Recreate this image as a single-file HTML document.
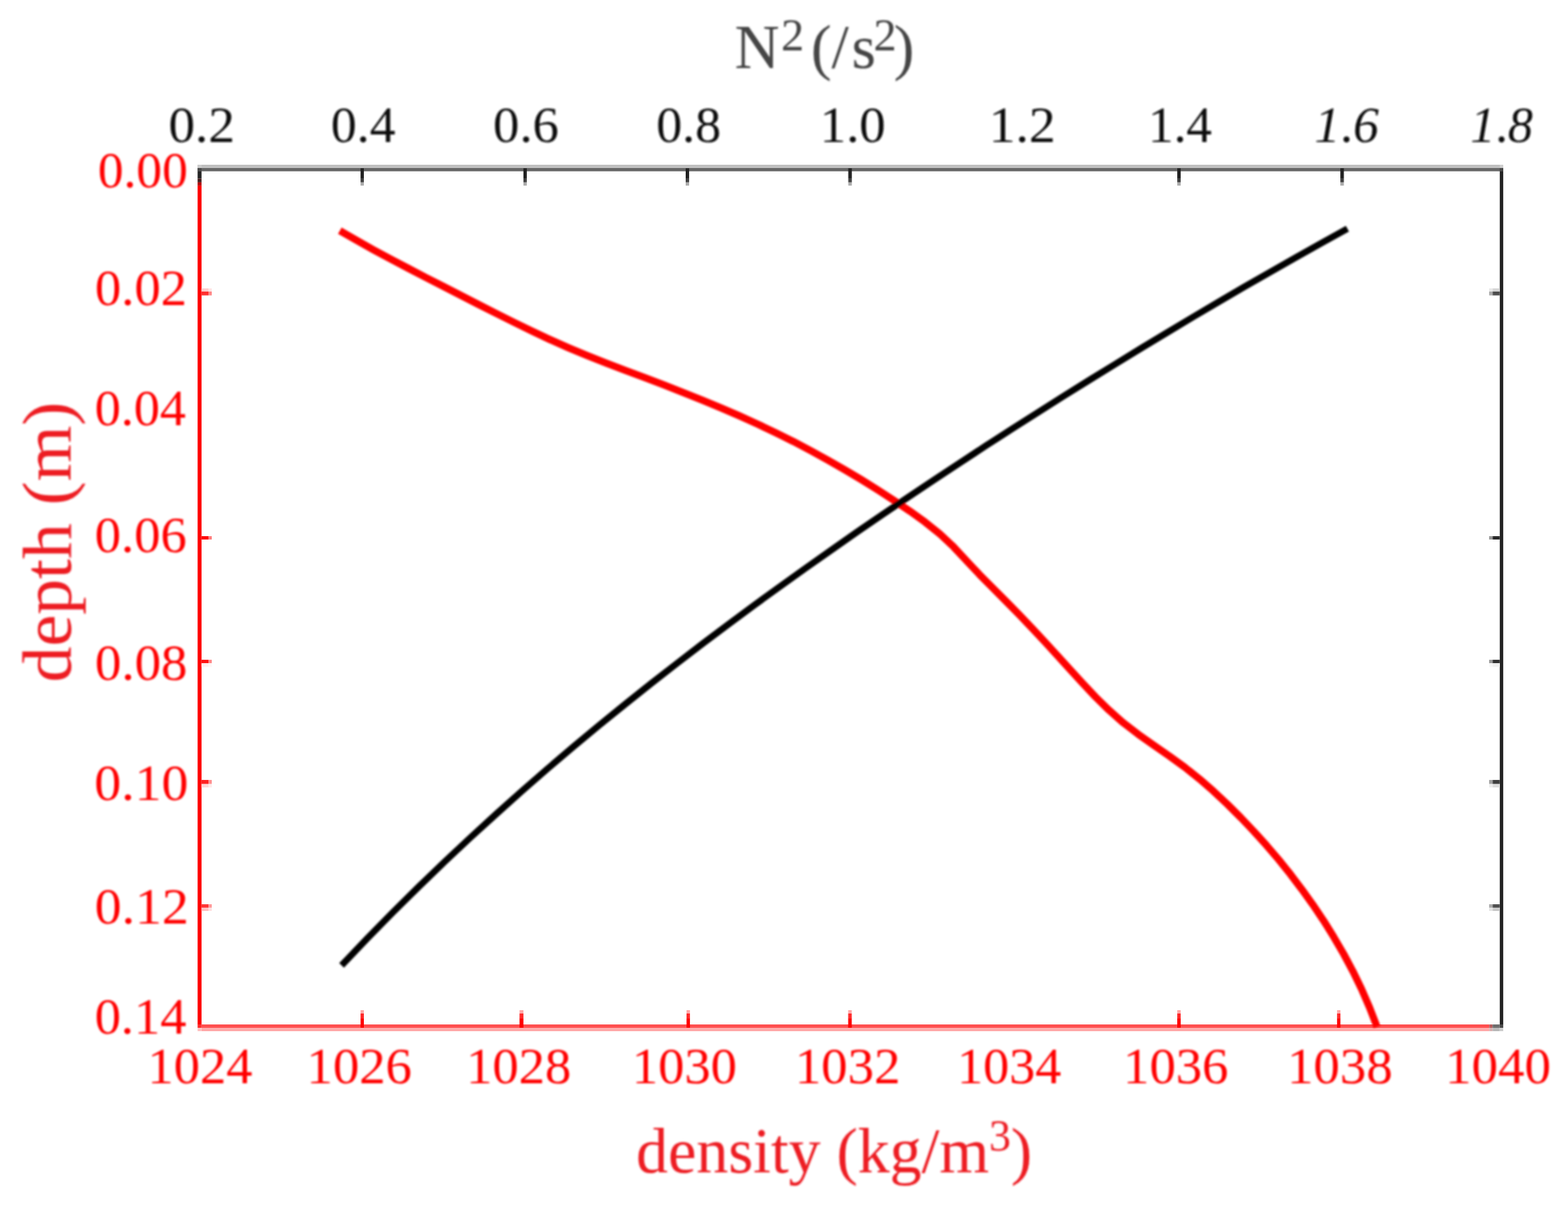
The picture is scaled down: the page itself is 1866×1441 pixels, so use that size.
<!DOCTYPE html>
<html lang="en"><head><meta charset="utf-8"><title>Density and N2 versus depth</title>
<style>
html,body{margin:0;padding:0;background:#fff;}
body{width:1866px;height:1441px;overflow:hidden;}
svg{display:block;}
text{font-family:"Liberation Serif",serif;}
.tk{font-size:62px;text-anchor:middle;}
</style></head><body>
<svg width="1866" height="1441" viewBox="0 0 1866 1441" role="img" aria-label="Density and squared buoyancy frequency versus depth">
<defs><filter id="b" x="-5%" y="-5%" width="110%" height="110%"><feGaussianBlur stdDeviation="1.0"/></filter></defs>
<rect width="1866" height="1441" fill="#fff"/>
<g id="axes">
<rect x="235.20" y="196.00" width="1553.70" height="3.90" fill="#c0c0c0"/>
<rect x="235.20" y="199.90" width="1553.70" height="3.90" fill="#666"/>
<rect x="235.20" y="196.00" width="4.60" height="3.90" fill="#cdcdcd"/>
<rect x="235.20" y="199.90" width="4.60" height="3.90" fill="#4a4a4a"/>
<rect x="1784.80" y="196.00" width="4.10" height="3.90" fill="#d0d0d0"/>
<rect x="1784.80" y="199.90" width="4.10" height="3.90" fill="#484848"/>
<rect x="1784.80" y="203.80" width="4.10" height="1015.20" fill="#222"/>
<rect x="239.80" y="1219.00" width="1532.40" height="4.00" fill="#ff5050"/>
<rect x="239.80" y="1223.00" width="1532.40" height="4.05" fill="#ffa8a8"/>
<rect x="1772.20" y="1219.00" width="4.00" height="4.00" fill="#b85c5c"/>
<rect x="1772.20" y="1223.00" width="4.00" height="4.05" fill="#d8b0b0"/>
<rect x="1776.20" y="1219.00" width="8.60" height="4.00" fill="#6e6e6e"/>
<rect x="1776.20" y="1223.00" width="8.60" height="4.05" fill="#b8b8b8"/>
<rect x="1784.80" y="1219.00" width="4.10" height="4.00" fill="#484848"/>
<rect x="1784.80" y="1223.00" width="4.10" height="4.05" fill="#cccccc"/>
<rect x="235.20" y="203.80" width="4.60" height="8.50" fill="#222"/>
<rect x="235.20" y="212.30" width="4.60" height="4.60" fill="#3f1c1c"/>
<rect x="235.20" y="216.90" width="4.60" height="4.00" fill="#b00a0a"/>
<rect x="235.20" y="220.90" width="4.60" height="998.10" fill="#ff0000"/>
<rect x="235.20" y="1219.00" width="4.60" height="4.00" fill="#ff2a2a"/>
<rect x="235.20" y="1223.00" width="4.60" height="4.05" fill="#ffc0c0"/>
</g>
<g id="ticks">
<rect x="429.10" y="200.20" width="3.90" height="11.80" fill="#222"/>
<rect x="429.10" y="212.00" width="3.90" height="4.90" fill="#404040"/>
<rect x="429.10" y="216.90" width="3.90" height="3.90" fill="#aaaaaa"/>
<rect x="622.90" y="200.20" width="4.00" height="11.80" fill="#222"/>
<rect x="622.90" y="212.00" width="4.00" height="4.90" fill="#404040"/>
<rect x="622.90" y="216.90" width="4.00" height="3.90" fill="#aaaaaa"/>
<rect x="816.00" y="200.20" width="4.10" height="11.80" fill="#222"/>
<rect x="816.00" y="212.00" width="4.10" height="4.90" fill="#404040"/>
<rect x="816.00" y="216.90" width="4.10" height="3.90" fill="#aaaaaa"/>
<rect x="1009.50" y="200.20" width="4.20" height="11.80" fill="#222"/>
<rect x="1009.50" y="212.00" width="4.20" height="4.90" fill="#404040"/>
<rect x="1009.50" y="216.90" width="4.20" height="3.90" fill="#aaaaaa"/>
<rect x="1401.00" y="200.20" width="4.10" height="11.80" fill="#222"/>
<rect x="1401.00" y="212.00" width="4.10" height="4.90" fill="#404040"/>
<rect x="1401.00" y="216.90" width="4.10" height="3.90" fill="#aaaaaa"/>
<rect x="1595.10" y="200.20" width="4.20" height="11.80" fill="#222"/>
<rect x="1595.10" y="212.00" width="4.20" height="4.90" fill="#404040"/>
<rect x="1595.10" y="216.90" width="4.20" height="3.90" fill="#aaaaaa"/>
<rect x="429.10" y="1202.00" width="3.90" height="4.00" fill="#ffa8a8"/>
<rect x="429.10" y="1206.00" width="3.90" height="5.20" fill="#ff2a2a"/>
<rect x="429.10" y="1211.20" width="3.90" height="11.80" fill="#ff0000"/>
<rect x="618.30" y="1202.00" width="4.60" height="4.00" fill="#ffa8a8"/>
<rect x="618.30" y="1206.00" width="4.60" height="5.20" fill="#ff2a2a"/>
<rect x="618.30" y="1211.20" width="4.60" height="11.80" fill="#ff0000"/>
<rect x="817.00" y="1202.00" width="4.10" height="4.00" fill="#ffa8a8"/>
<rect x="817.00" y="1206.00" width="4.10" height="5.20" fill="#ff2a2a"/>
<rect x="817.00" y="1211.20" width="4.10" height="11.80" fill="#ff0000"/>
<rect x="1009.40" y="1202.00" width="4.20" height="4.00" fill="#ffa8a8"/>
<rect x="1009.40" y="1206.00" width="4.20" height="5.20" fill="#ff2a2a"/>
<rect x="1009.40" y="1211.20" width="4.20" height="11.80" fill="#ff0000"/>
<rect x="1401.00" y="1202.00" width="4.10" height="4.00" fill="#ffa8a8"/>
<rect x="1401.00" y="1206.00" width="4.10" height="5.20" fill="#ff2a2a"/>
<rect x="1401.00" y="1211.20" width="4.10" height="11.80" fill="#ff0000"/>
<rect x="1591.20" y="1202.00" width="4.00" height="4.00" fill="#ffa8a8"/>
<rect x="1591.20" y="1206.00" width="4.00" height="5.20" fill="#ff2a2a"/>
<rect x="1591.20" y="1211.20" width="4.00" height="11.80" fill="#ff0000"/>
<rect x="239.80" y="343.20" width="8.20" height="3.70" fill="#ffcccc"/>
<rect x="248.00" y="343.20" width="4.00" height="3.70" fill="#ffe4e4"/>
<rect x="1776.20" y="343.20" width="8.60" height="3.70" fill="#d4d4d4"/>
<rect x="1772.15" y="343.20" width="4.05" height="3.70" fill="#e8e8e8"/>
<rect x="239.80" y="346.90" width="8.20" height="4.60" fill="#ff3030"/>
<rect x="248.00" y="346.90" width="4.00" height="4.60" fill="#ff8888"/>
<rect x="1776.20" y="346.90" width="8.60" height="4.60" fill="#4d4d4d"/>
<rect x="1772.15" y="346.90" width="4.05" height="4.60" fill="#aaaaaa"/>
<rect x="239.80" y="638.00" width="8.20" height="4.00" fill="#ff0808"/>
<rect x="248.00" y="638.00" width="4.00" height="4.00" fill="#ff8080"/>
<rect x="1776.20" y="638.00" width="8.60" height="4.00" fill="#2a2a2a"/>
<rect x="1772.15" y="638.00" width="4.05" height="4.00" fill="#999999"/>
<rect x="239.80" y="785.10" width="8.20" height="4.20" fill="#ff1010"/>
<rect x="248.00" y="785.10" width="4.00" height="4.20" fill="#ff8888"/>
<rect x="1776.20" y="785.10" width="8.60" height="4.20" fill="#303030"/>
<rect x="1772.15" y="785.10" width="4.05" height="4.20" fill="#9a9a9a"/>
<rect x="239.80" y="789.30" width="8.20" height="4.20" fill="#ffeeee"/>
<rect x="248.00" y="789.30" width="4.00" height="4.20" fill="#fff6f6"/>
<rect x="1776.20" y="789.30" width="8.60" height="4.20" fill="#f0f0f0"/>
<rect x="1772.15" y="789.30" width="4.05" height="4.20" fill="#f8f8f8"/>
<rect x="239.80" y="928.10" width="8.20" height="4.75" fill="#ff2020"/>
<rect x="248.00" y="928.10" width="4.00" height="4.75" fill="#ff9090"/>
<rect x="1776.20" y="928.10" width="8.60" height="4.75" fill="#3c3c3c"/>
<rect x="1772.15" y="928.10" width="4.05" height="4.75" fill="#a0a0a0"/>
<rect x="239.80" y="932.85" width="8.20" height="4.15" fill="#ffd8d8"/>
<rect x="248.00" y="932.85" width="4.00" height="4.15" fill="#ffecec"/>
<rect x="1776.20" y="932.85" width="8.60" height="4.15" fill="#dcdcdc"/>
<rect x="1772.15" y="932.85" width="4.05" height="4.15" fill="#eeeeee"/>
<rect x="239.80" y="1076.00" width="8.20" height="4.00" fill="#ff3838"/>
<rect x="248.00" y="1076.00" width="4.00" height="4.00" fill="#ff9c9c"/>
<rect x="1776.20" y="1076.00" width="8.60" height="4.00" fill="#505050"/>
<rect x="1772.15" y="1076.00" width="4.05" height="4.00" fill="#aaaaaa"/>
<rect x="239.80" y="1080.00" width="8.20" height="4.00" fill="#ffc0c0"/>
<rect x="248.00" y="1080.00" width="4.00" height="4.00" fill="#ffe0e0"/>
<rect x="1776.20" y="1080.00" width="8.60" height="4.00" fill="#c8c8c8"/>
<rect x="1772.15" y="1080.00" width="4.05" height="4.00" fill="#e4e4e4"/>
</g>
<g filter="url(#b)">
<path d="M404.4,274.6 L424.5,286.1 L444.8,297.4 L465.4,308.5 L486.1,319.4 L506.9,330.2 L527.8,340.9 L548.7,351.6 L569.6,362.3 L590.6,373.0 L611.6,383.5 L632.9,393.9 L654.4,404.0 L676.3,413.7 L698.6,423.0 L721.3,432.0 L744.2,440.7 L767.1,449.3 L790.1,458.0 L812.8,466.9 L835.4,475.9 L857.7,485.2 L879.8,494.8 L901.5,504.6 L923.0,514.8 L944.1,525.3 L964.8,536.2 L985.2,547.4 L1005.3,559.0 L1025.1,570.8 L1044.5,582.9 L1063.7,595.4 L1082.6,608.1 L1101.0,621.3 L1118.5,635.4 L1134.8,650.7 L1150.1,667.1 L1165.4,683.4 L1181.1,699.3 L1196.9,715.1 L1212.5,731.1 L1228.0,747.3 L1243.3,763.6 L1258.4,780.1 L1273.4,796.7 L1288.5,813.2 L1303.9,829.5 L1319.8,845.1 L1336.6,859.9 L1354.5,873.7 L1373.0,886.8 L1391.7,899.7 L1410.0,913.0 L1427.6,927.1 L1444.5,941.8 L1460.8,957.1 L1476.6,972.9 L1492.0,989.1 L1507.0,1005.7 L1521.6,1022.8 L1535.7,1040.3 L1549.3,1058.3 L1562.5,1076.7 L1575.2,1095.6 L1587.3,1115.1 L1599.0,1135.1 L1610.0,1155.7 L1620.3,1176.9 L1629.9,1199.0 L1638.7,1221.8" fill="none" stroke="#ff0000" stroke-width="8.6" stroke-linejoin="round"/>
<path d="M406.5,1148.7 L437.2,1116.5 L467.9,1085.2 L498.6,1054.9 L529.3,1025.3 L560.0,996.5 L590.7,968.5 L621.3,941.1 L652.0,914.4 L682.7,888.3 L713.4,862.8 L744.1,837.9 L774.8,813.4 L805.5,789.5 L836.2,765.9 L866.9,742.8 L897.6,720.1 L928.3,697.8 L959.0,675.8 L989.7,654.2 L1020.3,632.8 L1051.0,611.8 L1081.7,591.0 L1112.4,570.4 L1143.1,550.2 L1173.8,530.1 L1204.5,510.3 L1235.2,490.7 L1265.9,471.3 L1296.6,452.1 L1327.3,433.2 L1358.0,414.4 L1388.7,395.8 L1419.3,377.5 L1450.0,359.4 L1480.7,341.4 L1511.4,323.8 L1542.1,306.3 L1572.8,289.1 L1603.5,272.2" fill="none" stroke="#000" stroke-width="7.8" stroke-linejoin="round"/>
<g class="tk">
<text transform="translate(240.00,168.50) scale(1.0195,1)" fill="#111">0.2</text>
<text transform="translate(432.25,168.50) scale(0.9917,1)" fill="#111">0.4</text>
<text transform="translate(626.00,168.50) scale(1.0105,1)" fill="#111">0.6</text>
<text transform="translate(819.50,168.50) scale(0.9959,1)" fill="#111">0.8</text>
<text transform="translate(1014.75,168.50) scale(1.0155,1)" fill="#111">1.0</text>
<text transform="translate(1216.50,168.50) scale(1.0249,1)" fill="#111">1.2</text>
<text transform="translate(1404.25,168.50) scale(0.9828,1)" fill="#111">1.4</text>
<text transform="translate(1602.50,168.50) scale(0.9896,1)" fill="#111"><tspan font-style="italic">1</tspan>.<tspan font-style="italic">6</tspan></text>
<text transform="translate(1787.00,168.50) scale(0.9601,1)" fill="#111"><tspan font-style="italic">1</tspan>.<tspan font-style="italic">8</tspan></text>
<text transform="translate(238.00,1289.00) scale(1.0067,1)" fill="#ff0000">1024</text>
<text transform="translate(427.50,1289.00) scale(1.0120,1)" fill="#ff0000">1026</text>
<text transform="translate(617.25,1289.00) scale(1.0095,1)" fill="#ff0000">1028</text>
<text transform="translate(814.50,1289.00) scale(1.0067,1)" fill="#ff0000">1030</text>
<text transform="translate(1008.75,1289.00) scale(1.0123,1)" fill="#ff0000">1032</text>
<text transform="translate(1201.00,1289.00) scale(1.0000,1)" fill="#ff0000">1034</text>
<text transform="translate(1399.25,1289.00) scale(1.0109,1)" fill="#ff0000">1036</text>
<text transform="translate(1594.50,1289.00) scale(1.0135,1)" fill="#ff0000">1038</text>
<text transform="translate(1782.75,1289.00) scale(1.0162,1)" fill="#ff0000">1040</text>
<text transform="translate(170.00,223.00) scale(0.9851,1)" fill="#ff0000">0.00</text>
<text transform="translate(167.75,362.50) scale(1.0077,1)" fill="#ff0000">0.02</text>
<text transform="translate(167.00,505.50) scale(1.0000,1)" fill="#ff0000">0.04</text>
<text transform="translate(167.50,657.00) scale(1.0075,1)" fill="#ff0000">0.06</text>
<text transform="translate(168.00,809.00) scale(1.0151,1)" fill="#ff0000">0.08</text>
<text transform="translate(168.25,952.00) scale(1.0303,1)" fill="#ff0000">0.10</text>
<text transform="translate(168.75,1099.00) scale(1.0303,1)" fill="#ff0000">0.12</text>
<text transform="translate(167.25,1230.00) scale(1.0060,1)" fill="#ff0000">0.14</text>
</g>
<text y="81.3" font-size="74" fill="#444"><tspan x="874.3">N</tspan><tspan x="929.5" y="59.5" font-size="55">2</tspan> <tspan x="965.0" y="81.3">(</tspan><tspan x="989.5">/</tspan><tspan x="1013.5">s</tspan><tspan x="1039.5" y="59.5" font-size="55">2</tspan><tspan x="1063.5" y="81.3">)</tspan></text>
<text transform="translate(757,1395) scale(1,1)" font-size="76" fill="#ed1c24">density (kg/m<tspan font-size="52" dy="-26">3</tspan><tspan dy="26">)</tspan></text>
<text transform="translate(84,812) rotate(-90) scale(1.04,1)" font-size="82" fill="#ed1c24">depth (m)</text>
</g>
</svg>
</body></html>
